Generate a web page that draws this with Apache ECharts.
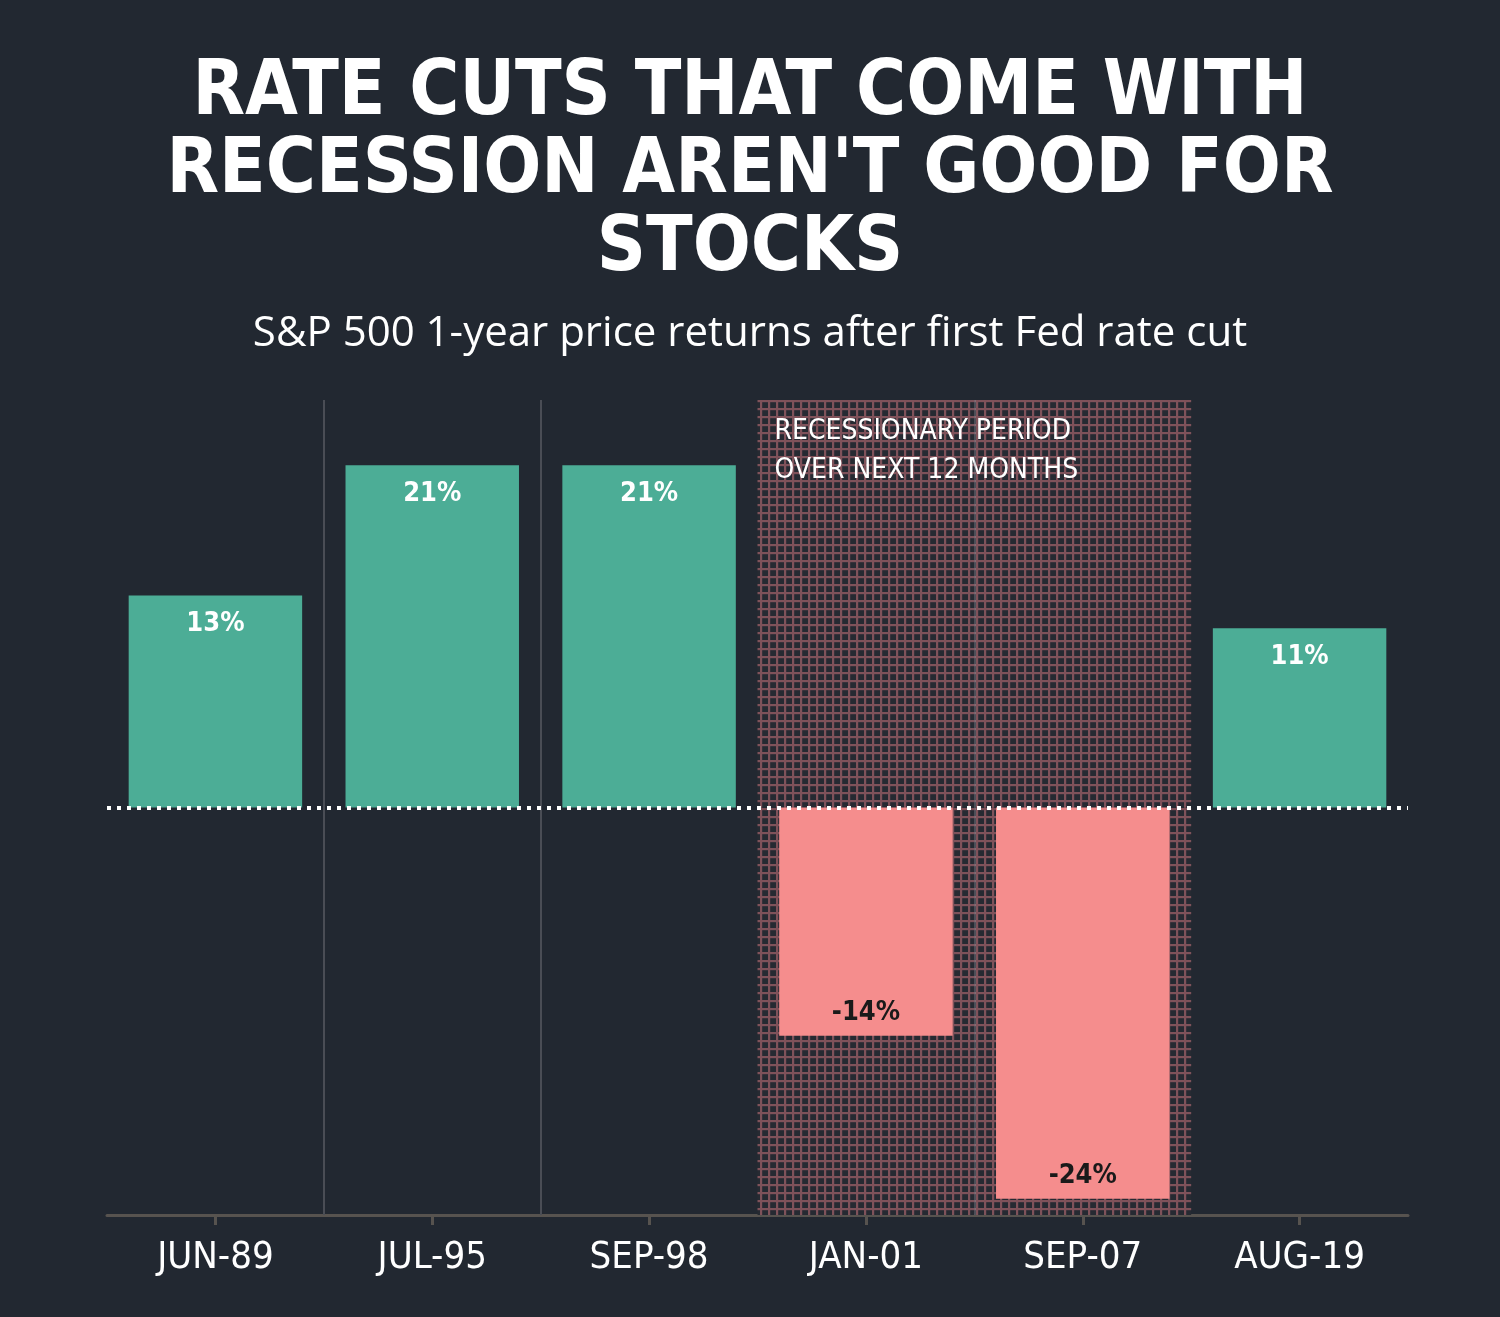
<!DOCTYPE html>
<html><head><meta charset="utf-8">
<script src="https://cdn.jsdelivr.net/npm/echarts@6/dist/echarts.min.js"></script>
<style>html,body{margin:0;padding:0;background:#222831;}#c{width:1500px;height:1317px;}</style>
</head><body><div id="c"></div>
<script>
const categories = ['JUN-89','JUL-95','SEP-98','JAN-01','SEP-07','AUG-19'];
const returns = [13, 21, 21, -14, -24, 11];
const recession = [false, false, false, true, true, false];
const separators = [1, 2, 4];   // category boundaries with thin dividers
const titleText = 'RATE CUTS THAT COME WITH\nRECESSION AREN\'T GOOD FOR\nSTOCKS';
const subtitleText = 'S&P 500 1-year price returns after first Fed rate cut';
const recessionNote = 'RECESSIONARY PERIOD\nOVER NEXT 12 MONTHS';

const GREEN = '#4cad96', PINK = '#f58d8d', BG = '#222831';
const condensed = '"Liberation Sans Narrow","DejaVu Sans Condensed",Roboto,sans-serif';

// grid pattern for recession shading
const S = 8;
const pc = document.createElement('canvas');
pc.width = S; pc.height = S;
const pctx = pc.getContext('2d');
pctx.fillStyle = '#262a32'; pctx.fillRect(0,0,S,S);
pctx.fillStyle = '#7f525a';
pctx.fillRect(0,0,S,2.2); pctx.fillRect(0,0,2.2,S);

const shadeTop = recession.map(r => r ? 25 : '-');
const shadeBot = recession.map(r => r ? -25 : '-');

const chart = echarts.init(document.getElementById('c'), null, {renderer:'canvas'});
chart.setOption({
  backgroundColor: BG,
  animation: false,
  title: [
    {text: titleText, left: 'center', top: 50,
     textStyle: {color:'#fff', fontSize: 76, lineHeight: 78, fontWeight: 'bold', fontFamily: condensed}},
    {text: subtitleText, left: 'center', top: 308,
     textStyle: {color:'#fff', fontSize: 42, fontWeight: 'normal', fontFamily: '"Open Sans",Roboto,sans-serif'}}
  ],
  grid: {left: 107, right: 92, top: 400, bottom: 102},
  xAxis: [
    {type:'category', data: categories, position:'bottom',
     axisLine:{show:true, onZero:false, lineStyle:{color:'#57534f', width:3}},
     axisTick:{show:true, alignWithLabel:true, length:10, lineStyle:{color:'#57534f', width:3}},
     axisLabel:{color:'#fff', fontSize:38, margin:24, fontFamily: condensed},
     splitLine:{show:false}},
    {type:'category', data: categories, show:false, axisLine:{onZero:false}},
    {type:'value', min:0, max:categories.length, show:false, axisLine:{onZero:false}}
  ],
  yAxis: {type:'value', min:-25, max:25, show:false, splitLine:{show:false}},
  series: [
    {type:'bar', xAxisIndex:1, stack:'shade', data: shadeTop, barCategoryGap:'0%', silent:true,
     itemStyle:{color:{image: pc, repeat:'repeat'}},
     label:{show:true, position:'insideTopLeft', distance: 12, offset:[5,0], formatter: (p)=> p.dataIndex===3 ? recessionNote : '',
       color:'#fff', fontSize:28, lineHeight:39, fontFamily: condensed}},
    {type:'bar', xAxisIndex:1, stack:'shade', data: shadeBot, barCategoryGap:'0%', silent:true,
     itemStyle:{color:{image: pc, repeat:'repeat'}}},
    {type:'line', xAxisIndex:2, data: [], silent:true, z:1,
     markLine:{symbol:'none', silent:true, label:{show:false},
       data: separators.map(b => ({xAxis: b, lineStyle:{color: b===4 ? 'rgba(150,150,160,0.35)' : '#4a4d55', width:2, type:'solid'}}))}},
    {type:'bar', xAxisIndex:0, data: returns.map(v => ({value:v, itemStyle:{color: v>=0 ? GREEN : PINK},
        label:{position: v>=0 ? 'insideTop' : 'insideBottom', distance: v>=0 ? 15 : 9, color: v>=0 ? '#fff' : '#1a1a1a'}})),
     barCategoryGap:'20%',
     label:{show:true, formatter: (p)=> p.value + '%', fontSize:27, fontWeight:'bold', fontFamily: condensed},
     markLine:{symbol:'none', silent:true, label:{show:false},
       lineStyle:{color:'#fff', type:[4,6], width:4},
       data:[{yAxis:0}]},
     z: 3}
  ]
});
</script></body></html>
